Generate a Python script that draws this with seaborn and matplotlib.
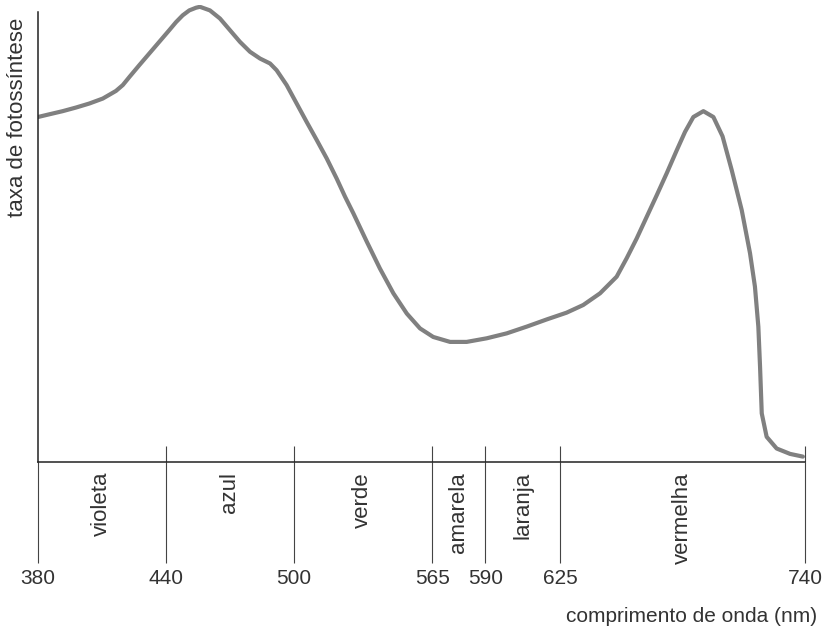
import matplotlib
matplotlib.use("Agg")
import matplotlib.pyplot as plt
import seaborn as sns
import pandas as pd

# Curve (wavelength in nm, relative photosynthesis rate)
wavelength = [380.0, 385.3, 391.6, 397.8, 404.1, 410.4, 416.6, 419.8, 422.9, 427.5,
              432.2, 436.9, 441.6, 444.8, 447.9, 451.0, 454.2, 456.0, 460.7, 465.4,
              470.1, 474.8, 479.5, 484.2, 488.9, 492.0, 496.7, 501.4, 506.1, 510.8,
              515.5, 520.2, 524.1, 528.0, 534.3, 540.5, 546.8, 553.1, 559.3, 565.5,
              573.4, 581.2, 590.6, 600.0, 609.4, 618.8, 628.1, 635.9, 643.8, 651.6,
              656.3, 661.0, 665.7, 670.4, 675.1, 679.8, 683.7, 687.6, 692.3, 697.0,
              701.3, 705.6, 710.3, 714.2, 716.5, 718.1, 718.9, 719.7, 722.0, 726.7,
              733.0, 739.0]
rate = [76.7, 77.3, 78.0, 78.8, 79.7, 80.8, 82.5, 83.8, 85.6, 88.2,
        90.8, 93.4, 96.0, 97.8, 99.3, 100.4, 101.0, 101.2, 100.4, 98.6,
        96.0, 93.4, 91.2, 89.7, 88.6, 87.1, 83.8, 79.7, 75.6, 71.6,
        67.5, 63.0, 59.0, 55.3, 49.0, 43.0, 37.5, 33.0, 29.7, 27.8,
        26.7, 26.7, 27.5, 28.6, 30.1, 31.7, 33.2, 34.9, 37.5, 41.2,
        45.3, 49.7, 54.5, 59.3, 64.2, 69.3, 73.4, 76.7, 78.0, 76.7,
        72.4, 64.9, 56.0, 46.4, 39.0, 30.1, 21.2, 10.8, 5.6, 3.0,
        1.8, 1.2]

# Colour bands of the spectrum
boundaries = [380, 440, 500, 565, 590, 625, 740]
band_names = ["violeta", "azul", "verde", "amarela", "laranja", "vermelha"]

df = pd.DataFrame({"comprimento": wavelength, "taxa": rate})

sns.set_style("white")
plt.rcParams["font.family"] = ["Liberation Sans", "DejaVu Sans"]

fig = plt.figure(figsize=(8.24, 6.27), dpi=100)
ax = fig.add_axes([38 / 824, 165 / 627, (805 - 38) / 824, (622 - 165) / 627])

sns.lineplot(data=df, x="comprimento", y="taxa", ax=ax, color="#808080",
             linewidth=3.0, solid_capstyle="round", solid_joinstyle="round")

ax.set_xlim(380, 740)
ax.set_ylim(0, 101.6)
ax.set_xlabel("")
ax.set_ylabel("")
ax.set_yticks([])

for side in ["top", "right"]:
    ax.spines[side].set_visible(False)
for side in ["left", "bottom"]:
    ax.spines[side].set_color("#222222")
    ax.spines[side].set_linewidth(1.1)
ax.spines["left"].set_bounds(0, 100)

# long ticks below the axis carry the wavelength numbers
ax.set_xticks(boundaries)
ax.set_xticklabels([str(b) for b in boundaries])
ax.tick_params(axis="x", bottom=True, direction="out", length=73, width=0.8,
               color="#444444", pad=4, labelsize=15, labelcolor="#333333")

# short stubs above the axis at the band edges
ax.vlines(boundaries[1:], 0, 3.6, color="#444444", linewidth=0.8, clip_on=False)

# band names, rotated, between the edges
for lo, hi, name in zip(boundaries[:-1], boundaries[1:], band_names):
    ax.text((lo + hi) / 2, -2.2, name, rotation=90, ha="center", va="top",
            fontsize=16, color="#333333", clip_on=False)

fig.text(18 / 824, 1 - 18 / 627, "taxa de fotossíntese", rotation=90,
         ha="center", va="top", fontsize=16, color="#333333")
fig.text(817 / 824, 5 / 627, "comprimento de onda (nm)", ha="right",
         va="baseline", fontsize=15, color="#333333")

fig.savefig("out.png", dpi=100)
